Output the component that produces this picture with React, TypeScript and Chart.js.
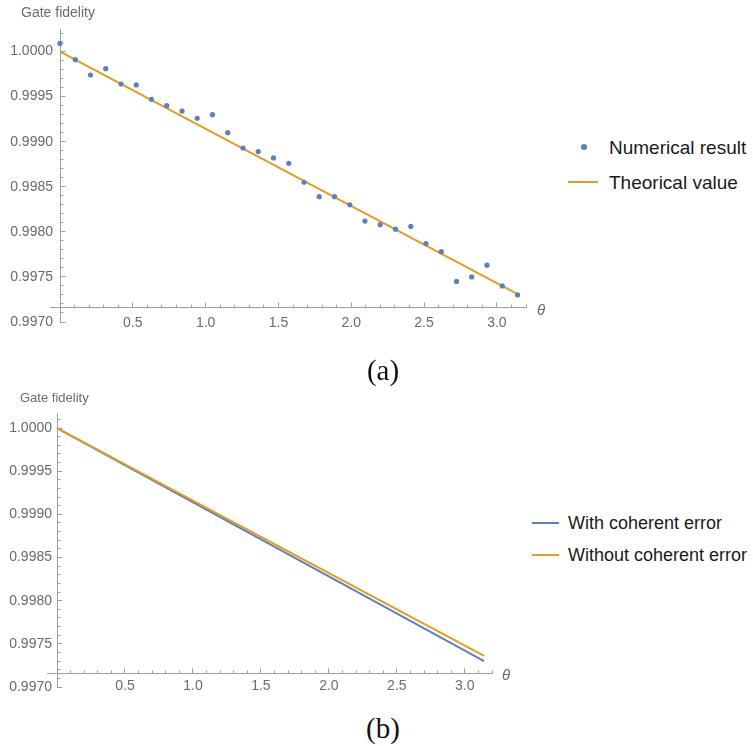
import React, { useEffect, useRef } from 'react';
import { Chart, registerables } from 'chart.js';

Chart.register(...registerables);

// ---------- data ----------
const thetaSamples = [
  0, 0.105, 0.209, 0.314, 0.419, 0.524, 0.628, 0.733, 0.838, 0.942, 1.047,
  1.152, 1.257, 1.361, 1.466, 1.571, 1.676, 1.78, 1.885, 1.99, 2.094,
  2.199, 2.304, 2.409, 2.513, 2.618, 2.723, 2.827, 2.932, 3.037, 3.142,
];
const numericalFidelity = [
  1.00009, 0.99991, 0.99974, 0.99981, 0.99964, 0.99963, 0.99947, 0.9994, 0.99934, 0.99926, 0.9993,
  0.9991, 0.99893, 0.99889, 0.99882, 0.99876, 0.99855, 0.99839, 0.99839, 0.9983, 0.99812,
  0.99808, 0.99803, 0.99806, 0.99787, 0.99778, 0.99745, 0.9975, 0.99763, 0.9974, 0.9973,
];
const theoryTheta = [0, 3.142];
const theoryFidelity = [1.0, 0.99731];

const lineTheta = [0, 3.142];
const withCoherentError = [1.0, 0.9973];
const withoutCoherentError = [1.0, 0.99736];

const xTickLabels = ['0.5', '1.0', '1.5', '2.0', '2.5', '3.0'];
const yTickLabels = ['0.9970', '0.9975', '0.9980', '0.9985', '0.9990', '0.9995', '1.0000'];

// ---------- styles ----------
const BLUE = '#5E81B5';
const ORANGE = '#E19C24';
const AXIS_COLOR = '#a0a0a0';
const LABEL_COLOR = '#6a6a6a';
const SANS = '"Liberation Sans", Arial, sans-serif';
const SERIF = '"Liberation Serif", "DejaVu Serif", serif';
const AXIS_CROSS_Y = 0.99716;
const X_AXIS_START = -0.07;

function labelFromList(list: string[], v: number) {
  const hit = list.find((s) => Math.abs(parseFloat(s) - v) < 1e-9);
  return hit ?? '';
}

const axisDecor = {
  id: 'axisDecor',
  beforeDatasetsDraw(chart: any) {
    const { ctx, chartArea, scales } = chart;
    const x = scales.x;
    const y = scales.y;
    const ay = Math.round(y.getPixelForValue(AXIS_CROSS_Y) - 0.5) + 0.5;
    const ax = Math.round(x.getPixelForValue(0) - 0.5) + 0.5;
    ctx.save();
    ctx.strokeStyle = AXIS_COLOR;
    ctx.lineWidth = 1;
    ctx.beginPath();
    ctx.moveTo(Math.round(x.getPixelForValue(X_AXIS_START)), ay);
    ctx.lineTo(chartArea.left, ay);
    for (const t of x.ticks) {
      if (t.value <= 1e-9) continue;
      const px = Math.round(x.getPixelForValue(t.value) - 0.5) + 0.5;
      const major = Math.abs(t.value * 2 - Math.round(t.value * 2)) < 1e-6;
      ctx.moveTo(px, ay);
      ctx.lineTo(px, ay - (major ? 5 : 3));
    }
    for (const t of y.ticks) {
      const py = Math.round(y.getPixelForValue(t.value) - 0.5) + 0.5;
      const major = Math.abs(t.value * 2000 - Math.round(t.value * 2000)) < 1e-6;
      ctx.moveTo(ax, py);
      ctx.lineTo(ax + (major ? 5 : 3), py);
    }
    ctx.stroke();
    ctx.restore();
  },
};

function makeScales(o: {
  yMax: number;
  yWidth: number;
  xPad: number;
  yPad: number;
}) {
  const font = { family: SANS, size: 14 };
  return {
    x: {
      type: 'linear',
      position: { y: AXIS_CROSS_Y },
      min: 0,
      max: 3.2,
      afterFit: (s: any) => {
        s.height = 0;
      },
      grid: { display: true, drawOnChartArea: false, drawTicks: false },
      border: { display: true, color: AXIS_COLOR, width: 1 },
      ticks: {
        stepSize: 0.1,
        includeBounds: false,
        autoSkip: false,
        maxRotation: 0,
        minRotation: 0,
        padding: o.xPad,
        color: LABEL_COLOR,
        font,
        callback: (v: number) => labelFromList(xTickLabels, v),
      },
    },
    y: {
      type: 'linear',
      position: 'left',
      min: 0.997,
      max: o.yMax,
      afterFit: (s: any) => {
        s.width = o.yWidth;
      },
      grid: { display: true, drawOnChartArea: false, drawTicks: false },
      border: { display: true, color: AXIS_COLOR, width: 1 },
      ticks: {
        stepSize: 0.0001,
        includeBounds: false,
        autoSkip: false,
        padding: o.yPad,
        color: LABEL_COLOR,
        font,
        callback: (v: number) => labelFromList(yTickLabels, v),
      },
    },
  };
}

function configA(): any {
  return {
    type: 'scatter',
    data: {
      datasets: [
        {
          label: 'Numerical result',
          data: thetaSamples.map((t, i) => ({ x: t, y: numericalFidelity[i] })),
          backgroundColor: BLUE,
          pointRadius: 2.6,
          pointBorderWidth: 0,
          showLine: false,
          order: 0,
          clip: false,
        },
        {
          label: 'Theorical value',
          data: theoryTheta.map((t, i) => ({ x: t, y: theoryFidelity[i] })),
          borderColor: ORANGE,
          borderWidth: 2,
          pointRadius: 0,
          showLine: true,
          order: 1,
          clip: false,
        },
      ],
    },
    options: {
      responsive: false,
      animation: false,
      events: [],
      devicePixelRatio: 1,
      layout: { padding: { left: 0, top: 29, right: 34, bottom: 18 } },
      plugins: { legend: { display: false }, tooltip: { enabled: false } },
      scales: makeScales({ yMax: 1.00025, yWidth: 60, xPad: 7, yPad: 7 }),
    },
    plugins: [axisDecor],
  };
}

function configB(): any {
  return {
    type: 'scatter',
    data: {
      datasets: [
        {
          label: 'Without coherent error',
          data: lineTheta.map((t, i) => ({ x: t, y: withoutCoherentError[i] })),
          borderColor: ORANGE,
          borderWidth: 2,
          pointRadius: 0,
          showLine: true,
          order: 0,
          clip: false,
        },
        {
          label: 'With coherent error',
          data: lineTheta.map((t, i) => ({ x: t, y: withCoherentError[i] })),
          borderColor: BLUE,
          borderWidth: 2,
          pointRadius: 0,
          showLine: true,
          order: 1,
          clip: false,
        },
      ],
    },
    options: {
      responsive: false,
      animation: false,
      events: [],
      devicePixelRatio: 1,
      layout: { padding: { left: 0, top: 33, right: 68, bottom: 23 } },
      plugins: { legend: { display: false }, tooltip: { enabled: false } },
      scales: makeScales({ yMax: 1.000174, yWidth: 57, xPad: 5, yPad: 5 }),
    },
    plugins: [axisDecor],
  };
}

function ChartCanvas({ make, top }: { make: () => any; top: number }) {
  const ref = useRef<HTMLCanvasElement | null>(null);
  useEffect(() => {
    if (!ref.current) return;
    const chart = new Chart(ref.current, make());
    return () => chart.destroy();
  }, [make]);
  return (
    <canvas
      ref={ref}
      width={560}
      height={top === 0 ? 340 : 330}
      style={{ position: 'absolute', left: 0, top, display: 'block' }}
    />
  );
}

function Label({
  x,
  y,
  children,
  style,
  center,
}: {
  x: number;
  y: number;
  children: React.ReactNode;
  style?: React.CSSProperties;
  center?: boolean;
}) {
  return (
    <div
      style={{
        position: 'absolute',
        left: x,
        top: y,
        transform: center ? 'translate(-50%, -50%)' : 'translateY(-50%)',
        whiteSpace: 'nowrap',
        lineHeight: 1,
        fontFamily: SANS,
        ...style,
      }}
    >
      {children}
    </div>
  );
}

function LegendLine({ x1, x2, y, color }: { x1: number; x2: number; y: number; color: string }) {
  return (
    <div
      style={{
        position: 'absolute',
        left: x1,
        top: y - 1,
        width: x2 - x1,
        height: 2,
        background: color,
      }}
    />
  );
}

export default function App() {
  return (
    <div
      style={{
        position: 'absolute',
        left: 0,
        top: 0,
        width: 753,
        height: 746,
        background: '#fff',
        overflow: 'hidden',
      }}
    >
      <ChartCanvas make={configA} top={0} />
      <ChartCanvas make={configB} top={380} />

      {/* chart (a) texts */}
      <Label x={21} y={12} style={{ fontSize: 14, color: LABEL_COLOR }}>
        Gate fidelity
      </Label>
      <Label x={537} y={309} style={{ fontSize: 15, color: LABEL_COLOR, fontStyle: 'italic' }}>
        θ
      </Label>
      <div
        style={{
          position: 'absolute',
          left: 581,
          top: 144,
          width: 6,
          height: 6,
          borderRadius: 3,
          background: BLUE,
        }}
      />
      <Label x={609} y={147} style={{ fontSize: 19, color: '#1a1a1a' }}>
        Numerical result
      </Label>
      <LegendLine x1={568} x2={598} y={182} color={ORANGE} />
      <Label x={609} y={182} style={{ fontSize: 19, color: '#1a1a1a' }}>
        Theorical value
      </Label>
      <Label x={383} y={370} center style={{ fontSize: 29, color: '#111', fontFamily: SERIF }}>
        (a)
      </Label>

      {/* chart (b) texts */}
      <Label x={20} y={397} style={{ fontSize: 13, color: LABEL_COLOR }}>
        Gate fidelity
      </Label>
      <Label x={502} y={674} style={{ fontSize: 15, color: LABEL_COLOR, fontStyle: 'italic' }}>
        θ
      </Label>
      <LegendLine x1={532} x2={559} y={523} color={BLUE} />
      <Label x={568} y={523} style={{ fontSize: 18, color: '#1a1a1a' }}>
        With coherent error
      </Label>
      <LegendLine x1={532} x2={559} y={555} color={ORANGE} />
      <Label x={568} y={555} style={{ fontSize: 18, color: '#1a1a1a' }}>
        Without coherent error
      </Label>
      <Label x={383} y={728} center style={{ fontSize: 29, color: '#111', fontFamily: SERIF }}>
        (b)
      </Label>
    </div>
  );
}
